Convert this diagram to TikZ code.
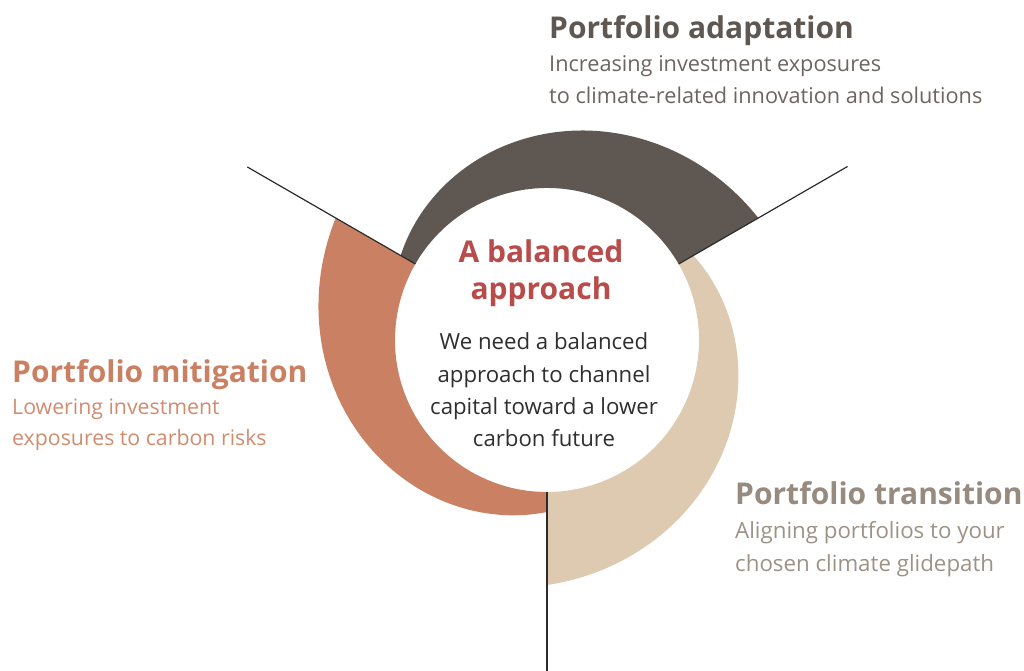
\documentclass[tikz,border=0pt]{standalone}
\usepackage{fontspec}
\setmainfont{Open Sans}
\usetikzlibrary{calc}
\definecolor{cbrown}{HTML}{5F5852}
\definecolor{ctan}{HTML}{DDCAB1}
\definecolor{corange}{HTML}{CA8163}
\definecolor{cred}{HTML}{B84C4A}
\definecolor{cdark}{HTML}{2F2F2F}
\definecolor{abody}{HTML}{6E6560}
\definecolor{mbody}{HTML}{D18C70}
\definecolor{ttitle}{HTML}{978A7E}
\definecolor{tbody}{HTML}{9E9287}
\definecolor{cline}{HTML}{2B2B2B}
\begin{document}
\begin{tikzpicture}[x=1pt,y=1pt,
  ttl/.style={font=\fontsize{30}{36}\selectfont\bfseries, inner sep=0pt},
  bdy/.style={font=\fontsize{#1}{30}\selectfont, inner sep=0pt},
  bdy/.default=21.7,
  divider/.style={draw=cline, line width=1.2pt}]
\useasboundingbox (0,0) rectangle (1024,671);
\fill[white] (0,0) rectangle (1024,671);
\coordinate (c) at (547,331);
% brown segment (150 -> 30)
\fill[cbrown] (c) ++(150:152) arc[start angle=150, end angle=30, radius=152]
  -- plot[domain=30:150, samples=80] ({547+(169+(150-\x)/120*75)*cos(\x)}, {331+(169+(150-\x)/120*75)*sin(\x)}) -- cycle;
% tan segment (30 -> -90)
\fill[ctan] (c) ++(30:152) arc[start angle=30, end angle=-90, radius=152]
  -- plot[domain=-90:30, samples=80] ({547+(169+(30-\x)/120*76)*cos(\x)}, {331+(169+(30-\x)/120*76)*sin(\x)}) -- cycle;
% orange segment (-90 -> -210)
\fill[corange] (c) ++(-90:152) arc[start angle=-90, end angle=-210, radius=152]
  -- plot[domain=-210:-90, samples=80] ({547+(172+(-90-\x)/120*72)*cos(\x)}, {331+(172+(-90-\x)/120*72)*sin(\x)}) -- cycle;
% dividers
\coordinate (l1a) at ($(c)+(150:152)$);
\coordinate (l1b) at ($(c)+(150:346)$);
\coordinate (l2a) at ($(c)+(30:152)$);
\coordinate (l2b) at ($(c)+(30:347)$);
\coordinate (l3a) at ($(c)+(-90:152)$);
\coordinate (l3b) at (547,0);
\draw[divider] (l1a) -- (l1b);
\draw[divider] (l2a) -- (l2b);
\draw[divider] (l3a) -- (l3b);
% centre text
\node[ttl, text=cred, anchor=base] (ct1) at (541,408) {A balanced};
\node[ttl, text=cred, anchor=base] (ct2) at (541,371) {approach};
\node[bdy=22.2, text=cdark, anchor=base] (cb1) at (544,321) {We need a balanced};
\node[bdy=22.2, text=cdark, anchor=base] (cb2) at (544,288) {approach to channel};
\node[bdy=22.2, text=cdark, anchor=base] (cb3) at (544,256) {capital toward a lower};
\node[bdy=22.2, text=cdark, anchor=base] (cb4) at (544,224) {carbon future};
% adaptation
\node[ttl, text=cbrown, anchor=base west] (at) at (549,632) {Portfolio adaptation};
\node[bdy=21.7, text=abody, anchor=base west] (ab1) at (549,599) {Increasing investment exposures};
\node[bdy=21.7, text=abody, anchor=base west] (ab2) at (549,567) {to climate-related innovation and solutions};
% mitigation
\node[ttl, text=corange, anchor=base west] (mt) at (12,288) {Portfolio mitigation};
\node[bdy=21.3, text=mbody, anchor=base west] (mb1) at (12,256) {Lowering investment};
\node[bdy=21.3, text=mbody, anchor=base west] (mb2) at (12,225) {exposures to carbon risks};
% transition
\node[ttl, text=ttitle, anchor=base west] (tt) at (735,166) {Portfolio transition};
\node[bdy=22.3, text=tbody, anchor=base west] (tb1) at (735,132) {Aligning portfolios to your};
\node[bdy=22.3, text=tbody, anchor=base west] (tb2) at (735,99) {chosen climate glidepath};
\end{tikzpicture}
\end{document}
